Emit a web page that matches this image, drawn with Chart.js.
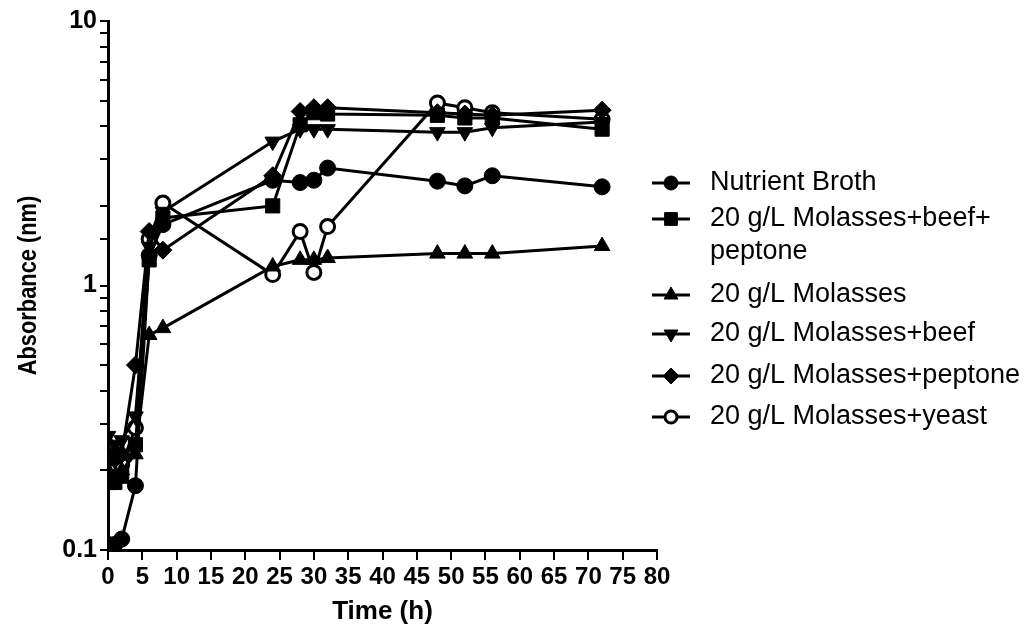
<!DOCTYPE html>
<html>
<head>
<meta charset="utf-8">
<script src="https://cdn.jsdelivr.net/npm/chart.js@4.4.1/dist/chart.umd.min.js"></script>
<style>
  html, body { margin: 0; padding: 0; background: #ffffff; }
  #wrap { width: 1032px; height: 633px; position: relative; }
</style>
</head>
<body>
<div id="wrap"><canvas id="c" width="1032" height="633"></canvas></div>
<script>
// ---- data ----
const timeH = [0, 1, 2, 4, 6, 8, 24, 28, 30, 32, 48, 52, 56, 72];
const nutrientBroth   = [0.105, 0.105, 0.11, 0.175, 1.30, 1.70, 2.50, 2.45, 2.50, 2.78, 2.48, 2.38, 2.60, 2.36];
const molBeefPeptone  = [0.18, 0.18, 0.19, 0.25, 1.25, 1.80, 2.00, 4.05, 4.50, 4.45, 4.40, 4.30, 4.30, 3.90];
const molasses        = [0.20, 0.19, 0.20, 0.23, 0.65, 0.69, 1.18, 1.25, 1.25, 1.27, 1.32, 1.32, 1.32, 1.41];
const molBeef         = [0.27, 0.25, 0.26, 0.32, 1.40, 1.90, 3.50, 3.90, 3.90, 3.90, 3.80, 3.80, 3.95, 4.15];
const molPeptone      = [0.23, 0.22, 0.23, 0.50, 1.60, 1.36, 2.60, 4.55, 4.70, 4.70, 4.50, 4.45, 4.40, 4.60];
const molYeast        = [0.21, 0.20, 0.21, 0.29, 1.50, 2.05, 1.10, 1.60, 1.12, 1.67, 4.90, 4.70, 4.50, 4.25];

const seriesLabels = [
  'Nutrient Broth',
  '20 g/L Molasses+beef+peptone',
  '20 g/L Molasses',
  '20 g/L Molasses+beef',
  '20 g/L Molasses+peptone',
  '20 g/L Molasses+yeast'
];
const legendLines = [
  ['Nutrient Broth'],
  ['20 g/L Molasses+beef+', 'peptone'],
  ['20 g/L Molasses'],
  ['20 g/L Molasses+beef'],
  ['20 g/L Molasses+peptone'],
  ['20 g/L Molasses+yeast']
];
const yTickLabels = [0.1, 1, 10];
const xAxisTitle = 'Time (h)';
const yAxisTitle = 'Absorbance (nm)';

// ---- styles ----
const FONT = '"Liberation Sans", Arial, Helvetica, sans-serif';
const styles = [
  { pointStyle: 'circle',   radius: 8,  rotation: 0,   fill: '#000', bw: 1 },
  { pointStyle: 'rect',     radius: 10, rotation: 0,   fill: '#000', bw: 1 },
  { pointStyle: 'triangle', radius: 9,  rotation: 0,   fill: '#000', bw: 1 },
  { pointStyle: 'triangle', radius: 9,  rotation: 180, fill: '#000', bw: 1 },
  { pointStyle: 'rectRot',  radius: 9,  rotation: 0,   fill: '#000', bw: 1 },
  { pointStyle: 'circle',   radius: 7,  rotation: 0,   fill: '#fff', bw: 3 }
];
const allSeries = [nutrientBroth, molBeefPeptone, molasses, molBeef, molPeptone, molYeast];

const datasets = allSeries.map((vals, i) => ({
  label: seriesLabels[i],
  data: vals.map((v, k) => ({ x: timeH[k], y: v })),
  borderColor: '#000',
  borderWidth: 3,
  backgroundColor: styles[i].fill,
  pointStyle: styles[i].pointStyle,
  pointRadius: styles[i].radius,
  pointRotation: styles[i].rotation,
  pointBackgroundColor: styles[i].fill,
  pointBorderColor: '#000',
  pointBorderWidth: styles[i].bw,
  pointHoverRadius: styles[i].radius,
  tension: 0,
  fill: false
}));

const decorPlugin = {
  id: 'decor',
  afterDraw(chart) {
    const ctx = chart.ctx;
    const area = chart.chartArea;
    ctx.save();
    // axis titles
    ctx.fillStyle = '#000';
    ctx.textAlign = 'center';
    ctx.textBaseline = 'middle';
    ctx.font = 'bold 26px ' + FONT;
    ctx.fillText(xAxisTitle, (area.left + area.right) / 2, 612);
    ctx.save();
    ctx.translate(29, (area.top + area.bottom) / 2);
    ctx.rotate(-Math.PI / 2);
    ctx.scale(0.84, 1);
    ctx.font = 'bold 26px ' + FONT;
    ctx.fillText(yAxisTitle, 0, 0);
    ctx.restore();

    // legend
    const rowY = [183, 219, 295, 334, 376, 417];
    const lineGap = 33;
    ctx.textAlign = 'left';
    ctx.font = '27px ' + FONT;
    chart.data.datasets.forEach((ds, i) => {
      const y = rowY[i];
      ctx.strokeStyle = '#000';
      ctx.lineWidth = 3;
      ctx.beginPath();
      ctx.moveTo(652, y);
      ctx.lineTo(690, y);
      ctx.stroke();
      ctx.fillStyle = ds.pointBackgroundColor;
      ctx.strokeStyle = '#000';
      ctx.lineWidth = ds.pointBorderWidth;
      Chart.helpers.drawPoint(ctx, {
        pointStyle: ds.pointStyle,
        rotation: ds.pointRotation,
        radius: Math.max(5, ds.pointRadius - 1),
        borderWidth: ds.pointBorderWidth
      }, 671, y);
      ctx.fillStyle = '#000';
      legendLines[i].forEach((t, j) => ctx.fillText(t, 710, y + j * lineGap));
    });
    ctx.restore();
  }
};

new Chart(document.getElementById('c'), {
  type: 'line',
  data: { datasets },
  options: {
    responsive: false,
    animation: false,
    devicePixelRatio: 1,
    layout: { padding: { top: 21, right: 375, left: 0, bottom: 0 } },
    plugins: { legend: { display: false }, tooltip: { enabled: false } },
    scales: {
      x: {
        type: 'linear',
        min: 0, max: 80,
        afterFit(scale) { scale.height = 83; },
        ticks: {
          stepSize: 5,
          color: '#000',
          font: { family: FONT, size: 24, weight: 'bold' },
          padding: 3,
          maxRotation: 0,
          autoSkip: false
        },
        grid: { drawOnChartArea: false, drawTicks: true, tickLength: 10, color: '#000', lineWidth: 2 },
        border: { display: true, color: '#000', width: 3 }
      },
      y: {
        type: 'logarithmic',
        min: 0.1, max: 10,
        afterFit(scale) { scale.width = 108; },
        ticks: {
          color: '#000',
          font: { family: FONT, size: 25, weight: 'bold' },
          padding: 3,
          autoSkip: false,
          callback(v) {
            const hit = yTickLabels.find(t => Math.abs(t - v) < 1e-9);
            return hit !== undefined ? String(hit) : '';
          }
        },
        grid: { drawOnChartArea: false, drawTicks: true, tickLength: 8, color: '#000', lineWidth: 2 },
        border: { display: true, color: '#000', width: 3 }
      }
    }
  },
  plugins: [decorPlugin]
});
</script>
</body>
</html>
